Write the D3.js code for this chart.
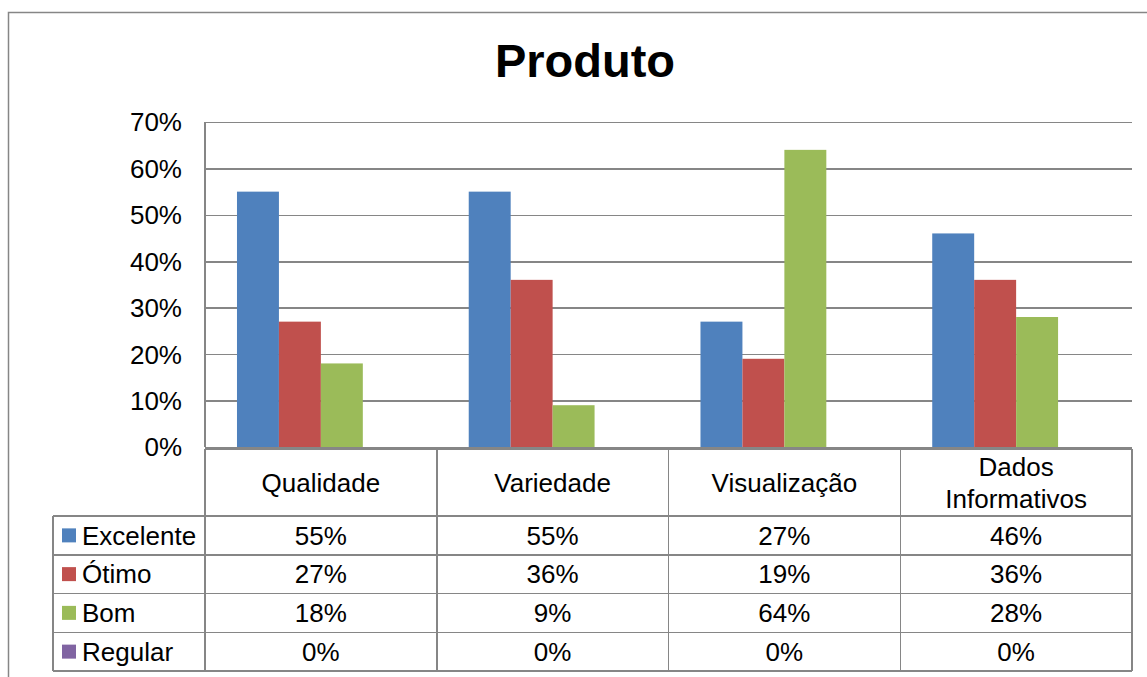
<!DOCTYPE html>
<html lang="pt">
  <head>
    <meta charset="utf-8">
    <title>Produto</title>
    <style>
    body { margin: 0; background: #fff; }
    svg text { font-family: "Liberation Sans", Arial, sans-serif; fill: #000; }
    .grid line { stroke: #868686; stroke-width: 1.5; shape-rendering: crispEdges; }
    .grid path { display: none; }
    .tbl line { stroke: #868686; stroke-width: 1.5; shape-rendering: crispEdges; }
    </style>
    <script src="https://cdn.jsdelivr.net/npm/d3@7"></script>
  </head>
  <body>
    <script>
      // data
      var categories = ["Qualidade", "Variedade", "Visualização", "Dados Informativos"];
      var series = ["Excelente", "Ótimo", "Bom", "Regular"];
      var excelente = [55, 55, 27, 46];
      var otimo = [27, 36, 19, 36];
      var bom = [18, 9, 64, 28];
      var regular = [0, 0, 0, 0];
      var yTicks = [0, 10, 20, 30, 40, 50, 60, 70];
      var colors = ["#4F81BD", "#C0504D", "#9BBB59", "#8064A2"];

      var values = [excelente, otimo, bom, regular];

      var width = 1147, height = 677;
      var plot = { left: 205, right: 1132, top: 122, bottom: 447 };

      var svg = d3.select("body").append("svg")
          .attr("width", width)
          .attr("height", height);

      // chart area border (runs off page to the right and bottom)
      svg.append("rect")
          .attr("x", 8.5).attr("y", 12.5)
          .attr("width", 1160).attr("height", 700)
          .attr("fill", "none")
          .attr("stroke", "#868686")
          .attr("stroke-width", 1.5);

      svg.append("text")
          .attr("x", 585).attr("y", 77)
          .attr("text-anchor", "middle")
          .style("font-size", "47px")
          .style("font-weight", "bold")
          .text("Produto");

      var x = d3.scaleBand()
          .domain(categories)
          .range([plot.left, plot.right])
          .paddingInner(0.276)
          .paddingOuter(0.138);

      var xs = d3.scaleBand()
          .domain(series)
          .range([0, x.bandwidth()]);

      var y = d3.scaleLinear()
          .domain([0, 70])
          .range([plot.bottom, plot.top]);

      // gridlines
      svg.append("g")
          .attr("class", "grid")
          .attr("transform", "translate(" + plot.left + ",0)")
          .call(d3.axisRight(y).tickValues(yTicks).tickSize(plot.right - plot.left).tickFormat(""));

      // y labels
      svg.append("g").selectAll("text")
          .data(yTicks)
          .enter().append("text")
          .attr("x", 182)
          .attr("y", d => y(d))
          .attr("dy", "0.36em")
          .attr("text-anchor", "end")
          .style("font-size", "26px")
          .text(d => d + "%");

      svg.append("line")
          .attr("x1", plot.left).attr("x2", plot.left)
          .attr("y1", plot.top).attr("y2", plot.bottom)
          .attr("stroke", "#868686").attr("stroke-width", 1.5)
          .style("shape-rendering", "crispEdges");

      // bars
      series.forEach(function(s, si) {
        svg.append("g").selectAll("rect")
            .data(values[si])
            .enter().append("rect")
            .attr("x", (d, i) => x(categories[i]) + xs(s))
            .attr("y", d => y(d))
            .attr("width", xs.bandwidth())
            .attr("height", d => y(0) - y(d))
            .attr("fill", colors[si]);
      });

      // data table
      var headTop = 449, rowTop = 516, rowH = 38.75, legendLeft = 53;
      var cols = categories.map(c => x(c) - x.step() * x.paddingInner() / 2);
      cols.push(plot.right);
      var tbl = svg.append("g").attr("class", "tbl");

      tbl.append("line").attr("x1", plot.left).attr("x2", plot.right)
          .attr("y1", headTop).attr("y2", headTop);
      for (var r = 0; r <= series.length; r++) {
        tbl.append("line").attr("x1", legendLeft).attr("x2", plot.right)
            .attr("y1", rowTop + r * rowH).attr("y2", rowTop + r * rowH);
      }
      cols.forEach(function(cx) {
        tbl.append("line").attr("x1", cx).attr("x2", cx)
            .attr("y1", headTop).attr("y2", rowTop + series.length * rowH);
      });
      tbl.append("line").attr("x1", legendLeft).attr("x2", legendLeft)
          .attr("y1", rowTop).attr("y2", rowTop + series.length * rowH);

      // header labels
      categories.forEach(function(c, i) {
        var cx = (cols[i] + cols[i + 1]) / 2;
        var words = c === "Dados Informativos" ? ["Dados", "Informativos"] : [c];
        var t = tbl.append("text")
            .attr("text-anchor", "middle")
            .style("font-size", "26px");
        words.forEach(function(w, wi) {
          t.append("tspan")
              .attr("x", cx)
              .attr("y", (headTop + rowTop) / 2 + (wi - (words.length - 1) / 2) * 32)
              .attr("dy", "0.36em")
              .text(w);
        });
      });

      // rows
      series.forEach(function(s, si) {
        var cy = rowTop + si * rowH + rowH / 2;
        tbl.append("rect")
            .attr("x", 62).attr("y", cy - 7)
            .attr("width", 14).attr("height", 14)
            .attr("fill", colors[si]);
        tbl.append("text")
            .attr("x", 82).attr("y", cy)
            .attr("dy", "0.36em")
            .style("font-size", "26px")
            .text(s);
        values[si].forEach(function(v, i) {
          tbl.append("text")
              .attr("x", (cols[i] + cols[i + 1]) / 2)
              .attr("y", cy)
              .attr("dy", "0.36em")
              .attr("text-anchor", "middle")
              .style("font-size", "26px")
              .text(v + "%");
        });
      });
    </script>
  </body>
</html>
